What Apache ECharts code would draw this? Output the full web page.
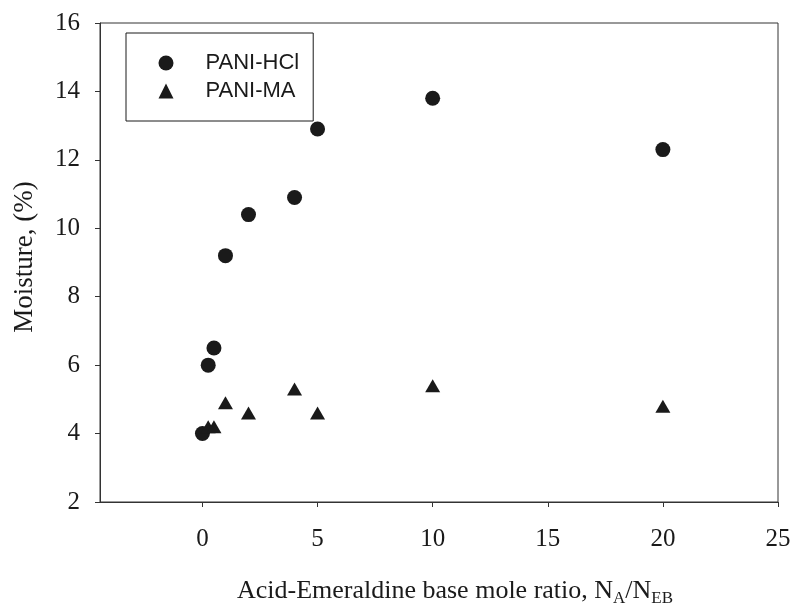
<!DOCTYPE html>
<html>
<head>
<meta charset="utf-8">
<title>Moisture vs acid-emeraldine base mole ratio</title>
<script src="https://cdn.jsdelivr.net/npm/echarts@6/dist/echarts.min.js"></script>
<style>
  html, body { margin: 0; padding: 0; background: #ffffff; }
  #chart { width: 792px; height: 604px; }
</style>
</head>
<body>
<div id="chart"></div>
<script>
// Moisture content (%) against acid / emeraldine-base mole ratio
const seriesNames = ['PANI-HCl', 'PANI-MA'];

const ratioHCl    = [0, 0.25, 0.5, 1, 2, 4, 5, 10, 20];
const moistureHCl = [4.0, 6.0, 6.5, 9.2, 10.4, 10.9, 12.9, 13.8, 12.3];

const ratioMA     = [0.25, 0.5, 1, 2, 4, 5, 10, 20];
const moistureMA  = [4.2, 4.2, 4.9, 4.6, 5.3, 4.6, 5.4, 4.8];

const xTicks = [0, 5, 10, 15, 20, 25];
const yTicks = [2, 4, 6, 8, 10, 12, 14, 16];

const pairs = (xs, ys) => xs.map((x, i) => [x, ys[i]]);

const ink = '#1a1a1a';
const axisInk = '#333333';
const serif = '"Liberation Serif", "Times New Roman", serif';
const sans = '"Liberation Sans", Arial, sans-serif';

const chart = echarts.init(document.getElementById('chart'), null, { renderer: 'canvas' });

chart.setOption({
  backgroundColor: '#ffffff',
  animation: false,
  grid: {
    left: 100, top: 23, right: 14, bottom: 102,
    outerBoundsMode: 'none',
    show: true,
    borderColor: axisInk,
    borderWidth: 1,
    backgroundColor: 'transparent'
  },
  legend: {
    orient: 'vertical',
    left: 126,
    top: 33,
    padding: [19, 14, 19, 32.5],
    itemWidth: 15,
    itemHeight: 15,
    itemGap: 6,
    borderColor: ink,
    borderWidth: 1,
    data: [
      { name: seriesNames[0], icon: 'circle' },
      { name: seriesNames[1], icon: 'triangle' }
    ],
    textStyle: {
      fontFamily: sans,
      fontSize: 22,
      color: ink,
      padding: [0, 0, 0, 27]
    }
  },
  xAxis: {
    type: 'value',
    min: -4.45,
    max: 25,
    splitLine: { show: false },
    axisLine: { show: true, onZero: false, lineStyle: { color: axisInk, width: 1 } },
    axisTick: {
      show: true, inside: false, length: 5,
      customValues: xTicks,
      lineStyle: { color: axisInk }
    },
    axisLabel: {
      customValues: xTicks,
      margin: 25,
      fontFamily: serif,
      fontSize: 25,
      color: ink
    },
    name: 'Acid-Emeraldine base mole ratio, N{sub|A}/N{sub|EB}',
    nameLocation: 'middle',
    nameGap: 74,
    nameTextStyle: {
      fontFamily: serif,
      fontSize: 26,
      color: ink,
      padding: [0, 0, 0, 32],
      rich: {
        sub: {
          fontFamily: serif,
          fontSize: 17,
          color: ink,
          padding: [14, 0, 0, 0]
        }
      }
    }
  },
  yAxis: {
    type: 'value',
    min: yTicks[0],
    max: yTicks[yTicks.length - 1],
    interval: 2,
    splitLine: { show: false },
    axisLine: { show: true, onZero: false, lineStyle: { color: axisInk, width: 1 } },
    axisTick: { show: true, inside: false, length: 5, lineStyle: { color: axisInk } },
    axisLabel: {
      margin: 20,
      fontFamily: serif,
      fontSize: 25,
      color: ink
    },
    name: 'Moisture, (%)',
    nameLocation: 'middle',
    nameGap: 62,
    nameTextStyle: {
      fontFamily: serif,
      fontSize: 27,
      color: ink,
      padding: [0, 0, 0, 11]
    }
  },
  series: [
    {
      name: seriesNames[0],
      type: 'scatter',
      symbol: 'circle',
      symbolSize: 15,
      itemStyle: { color: ink, opacity: 1 },
      data: pairs(ratioHCl, moistureHCl)
    },
    {
      name: seriesNames[1],
      type: 'scatter',
      symbol: 'triangle',
      symbolSize: [15, 13],
      itemStyle: { color: ink, opacity: 1 },
      data: pairs(ratioMA, moistureMA)
    }
  ]
});
</script>
</body>
</html>
